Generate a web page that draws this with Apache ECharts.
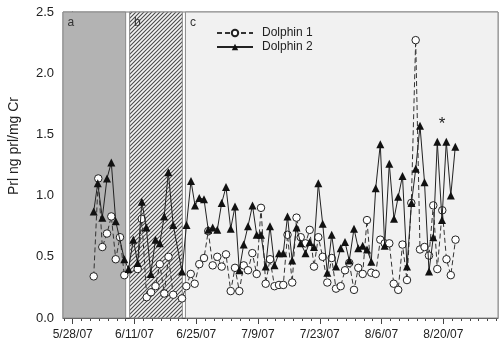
<!DOCTYPE html>
<html><head><meta charset="utf-8">
<script src="https://cdn.jsdelivr.net/npm/echarts@6/dist/echarts.min.js"></script>
<style>html,body{margin:0;padding:0;background:#fff}#c{width:499px;height:343px}</style>
</head><body><div id="c"></div>
<script>
// days since 5/28/07
const xTickDays = [0, 14, 28, 42, 56, 70, 84];
const xTickLabels = ['5/28/07', '6/11/07', '6/25/07', '7/9/07', '7/23/07', '8/6/07', '8/20/07'];
const yTickLabels = ['0.0', '0.5', '1.0', '1.5', '2.0', '2.5'];

const regionNames = ['a', 'b', 'c'];
const regionStart = [-2.2, 12.9, 25.55];
const regionEnd = [12.0, 24.85, 96.4];

const dolphin1Days = [4.76,5.80,6.71,7.77,8.75,9.75,10.72,11.70,14.73,15.66,
16.77,17.75,18.77,19.74,20.76,21.71,22.78,24.77,25.75,26.75,
27.65,28.69,29.76,30.73,31.73,32.77,33.77,34.75,35.81,36.79,
37.76,38.76,39.73,40.71,41.70,42.68,43.74,44.72,45.74,46.76,
47.73,48.69,49.75,50.73,51.68,52.77,53.72,54.69,55.67,56.66,
57.71,58.70,59.68,60.74,61.72,62.69,63.76,64.73,65.73,66.70,
67.68,68.68,69.72,70.72,71.76,72.76,73.78,74.75,75.77,76.75,
77.74,78.72,79.74,80.76,81.73,82.64,83.77,84.72,85.70,86.77];
const dolphin1Values = [0.34,1.14,0.58,0.69,0.83,0.48,0.66,0.35,0.40,0.81,
0.17,0.21,0.26,0.44,0.20,0.50,0.19,0.16,0.26,0.36,
0.28,0.44,0.49,0.71,0.43,0.50,0.42,0.52,0.22,0.41,
0.22,0.43,0.39,0.53,0.36,0.90,0.28,0.48,0.26,0.27,
0.27,0.68,0.29,0.82,0.66,0.61,0.72,0.42,0.66,0.50,
0.29,0.49,0.24,0.26,0.39,0.45,0.23,0.41,0.36,0.80,
0.37,0.36,0.64,0.61,0.61,0.28,0.23,0.60,0.31,0.94,
2.27,0.56,0.58,0.51,0.92,0.40,0.88,0.48,0.35,0.64];

const dolphin2Days = [4.76,5.67,6.71,7.77,8.75,9.75,11.70,12.65,13.74,14.73,
15.66,16.68,17.70,18.77,19.74,20.74,21.67,22.78,24.77,25.79,
26.81,27.72,28.69,29.76,30.73,31.73,32.77,33.77,34.75,35.81,
36.79,37.76,38.76,39.73,40.75,41.70,42.68,43.74,44.72,45.74,
46.76,47.73,48.69,49.75,50.73,51.68,52.77,53.72,54.69,55.67,
56.66,57.71,58.70,59.68,60.74,61.72,62.69,63.76,64.73,65.73,
66.70,67.68,68.68,69.72,70.72,71.76,72.82,73.78,74.75,75.77,
76.79,77.76,78.72,79.74,80.76,81.73,82.64,83.70,84.68,85.70,86.72];
const dolphin2Values = [0.87,1.10,0.82,1.14,1.27,0.79,0.48,0.40,0.64,0.45,
0.95,0.74,0.36,0.64,0.61,0.83,1.19,0.76,0.38,0.76,
1.12,0.92,0.98,0.97,0.72,0.74,0.72,0.94,1.07,0.73,
0.91,0.39,0.60,0.75,0.92,0.68,0.68,0.42,0.75,0.43,
0.53,0.53,0.83,0.47,0.74,0.61,0.53,0.62,0.58,1.10,
0.77,0.37,0.68,0.42,0.57,0.62,0.47,0.73,0.57,0.59,
0.56,0.46,1.06,1.42,0.59,1.26,0.81,0.99,1.16,0.42,
0.94,1.22,1.57,1.11,0.38,0.66,1.44,0.80,1.44,1.00,1.40];

const asteriskPos = [83.7, 1.58];

const FONT = "'Liberation Sans', Arial, sans-serif";
const minorTickDays = [];
for (let d = -2; d <= 96; d += 2) minorTickDays.push(d);

function hatchCanvas() {
  const c = document.createElement('canvas');
  c.width = 4; c.height = 4;
  const g = c.getContext('2d');
  g.fillStyle = '#f4f4f4'; g.fillRect(0, 0, 4, 4);
  g.strokeStyle = '#4a4a4a'; g.lineWidth = 1.1;
  g.beginPath();
  g.moveTo(0, 4); g.lineTo(4, 0);
  g.moveTo(-1, 1); g.lineTo(1, -1);
  g.moveTo(3, 5); g.lineTo(5, 3);
  g.stroke();
  return c;
}
const regionFills = ['#b3b3b3', { image: hatchCanvas(), repeat: 'repeat' }, '#f1f1f1'];

const zip = (xs, ys) => xs.map((x, i) => [x, ys[i]]);

const chart = echarts.init(document.getElementById('c'));
chart.setOption({
  animation: false,
  textStyle: { fontFamily: FONT },
  grid: { left: 63, right: 1, top: 12, bottom: 25, outerBoundsMode: 'none', containLabel: false, show: true, borderColor: '#777', borderWidth: 1, backgroundColor: 'transparent' },
  legend: {
    data: ['Dolphin 1', 'Dolphin 2'],
    orient: 'vertical', left: 211, top: 22,
    itemWidth: 36, itemHeight: 8, itemGap: 2,
    textStyle: { fontSize: 12, color: '#222', fontFamily: FONT, padding: [0, 0, 0, 4] }
  },
  xAxis: [
    {
      type: 'value', min: -2.2, max: 96.4, position: 'bottom',
      axisLine: { show: true, lineStyle: { color: '#444', width: 1 } },
      axisTick: { show: true, customValues: xTickDays, length: 6, lineStyle: { color: '#444' } },
      axisLabel: {
        customValues: xTickDays, fontSize: 12, color: '#222', margin: 11, fontFamily: FONT,
        formatter: v => xTickLabels[xTickDays.indexOf(Math.round(v))]
      },
      splitLine: { show: false }
    },
    {
      type: 'value', min: -2.2, max: 96.4, position: 'bottom',
      axisLine: { show: false },
      axisTick: { show: true, customValues: minorTickDays, length: 3, lineStyle: { color: '#444' } },
      axisLabel: { show: false },
      splitLine: { show: false }
    }
  ],
  yAxis: {
    type: 'value', min: 0, max: 2.5, interval: 0.5,
    axisLine: { show: true, lineStyle: { color: '#444', width: 1 } },
    axisTick: { show: true, length: 5, lineStyle: { color: '#444' } },
    axisLabel: { fontSize: 13, color: '#222', margin: 9, fontFamily: FONT, formatter: v => yTickLabels[Math.round(v / 0.5)] },
    splitLine: { show: false }
  },
  graphic: [{
    type: 'text', x: 14, y: 146, rotation: Math.PI / 2,
    style: { text: 'Prl ng prl/mg Cr', fontSize: 14, fontFamily: FONT, fill: '#222', align: 'center', verticalAlign: 'middle' }
  }],
  series: [
    {
      name: 'regions', type: 'line', data: [], z: 1, silent: true,
      markArea: {
        silent: true,
        data: regionNames.map((n, i) => [
          {
            xAxis: regionStart[i],
            itemStyle: { color: regionFills[i], borderColor: '#8a8a8a', borderWidth: 1, opacity: 1 },
            label: { show: true, formatter: n, position: 'insideTopLeft', distance: 5, fontSize: 12, color: '#333', fontFamily: FONT }
          },
          { xAxis: regionEnd[i] }
        ])
      }
    },
    {
      name: 'Dolphin 1', type: 'line', z: 3,
      data: zip(dolphin1Days, dolphin1Values),
      symbol: 'circle', symbolSize: 7.5, showAllSymbol: true,
      lineStyle: { color: '#333', width: 1, type: [5, 3] },
      itemStyle: { color: '#ffffff', borderColor: '#222', borderWidth: 1 }
    },
    {
      name: 'Dolphin 2', type: 'line', z: 4,
      data: zip(dolphin2Days, dolphin2Values),
      symbol: 'triangle', symbolSize: 8, showAllSymbol: true,
      lineStyle: { color: '#222', width: 1 },
      itemStyle: { color: '#111', borderColor: '#111', borderWidth: 0 },
      markPoint: {
        silent: true,
        data: [{ coord: asteriskPos, symbolSize: 0, label: { show: true, formatter: '*', position: 'inside', fontSize: 17, color: '#222', fontFamily: FONT } }]
      }
    }
  ]
});
</script></body></html>
